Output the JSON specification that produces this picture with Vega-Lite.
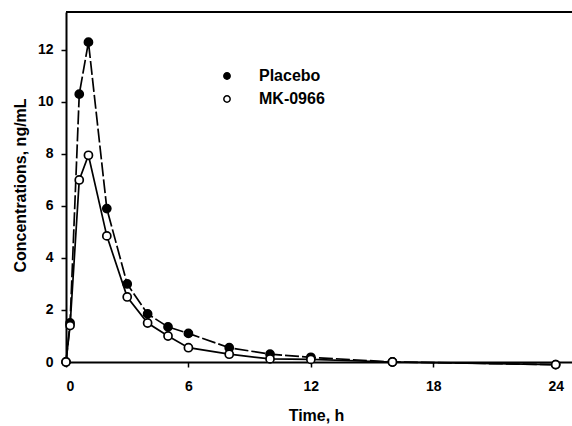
{
  "$schema": "https://vega.github.io/schema/vega-lite/v6.json",
  "width": 506,
  "height": 350,
  "autosize": {"type": "none"},
  "padding": {"left": 66, "top": 12, "right": 0, "bottom": 64},
  "background": "white",
  "view": {"stroke": null},
  "config": {
    "font": "Liberation Sans",
    "axis": {"labelFont": "Liberation Sans", "titleFont": "Liberation Sans", "labelFontWeight": "bold", "titleFontWeight": "bold", "labelColor": "black", "titleColor": "black", "domainColor": "black", "tickColor": "black", "labelFontSize": 14, "titleFontSize": 16, "domainWidth": 2, "tickWidth": 1.5, "grid": false},
    "legend": {"labelFont": "Liberation Sans", "labelFontWeight": "bold", "labelFontSize": 16, "labelColor": "black"}
  },
  "data": {
    "values": [
      {"t": 0, "c": 0, "group": "Placebo"},
      {"t": 0.2, "c": 1.5, "group": "Placebo"},
      {"t": 0.65, "c": 10.3, "group": "Placebo"},
      {"t": 1.1, "c": 12.3, "group": "Placebo"},
      {"t": 2, "c": 5.9, "group": "Placebo"},
      {"t": 3, "c": 3.0, "group": "Placebo"},
      {"t": 4, "c": 1.85, "group": "Placebo"},
      {"t": 5, "c": 1.35, "group": "Placebo"},
      {"t": 6, "c": 1.1, "group": "Placebo"},
      {"t": 8, "c": 0.55, "group": "Placebo"},
      {"t": 10, "c": 0.3, "group": "Placebo"},
      {"t": 12, "c": 0.18, "group": "Placebo"},
      {"t": 16, "c": 0.0, "group": "Placebo"},
      {"t": 24, "c": -0.1, "group": "Placebo"},
      {"t": 0, "c": 0, "group": "MK-0966"},
      {"t": 0.2, "c": 1.4, "group": "MK-0966"},
      {"t": 0.65, "c": 7.0, "group": "MK-0966"},
      {"t": 1.1, "c": 7.95, "group": "MK-0966"},
      {"t": 2, "c": 4.85, "group": "MK-0966"},
      {"t": 3, "c": 2.5, "group": "MK-0966"},
      {"t": 4, "c": 1.5, "group": "MK-0966"},
      {"t": 5, "c": 1.0, "group": "MK-0966"},
      {"t": 6, "c": 0.55, "group": "MK-0966"},
      {"t": 8, "c": 0.3, "group": "MK-0966"},
      {"t": 10, "c": 0.12, "group": "MK-0966"},
      {"t": 12, "c": 0.1, "group": "MK-0966"},
      {"t": 16, "c": 0.0, "group": "MK-0966"},
      {"t": 24, "c": -0.1, "group": "MK-0966"}
    ]
  },
  "layer": [
    {
      "mark": {"type": "rule", "color": "black", "strokeWidth": 2},
      "encoding": {"y": {"datum": 13.46, "type": "quantitative"}}
    },
    {
      "transform": [{"filter": "datum.group === 'Placebo'"}],
      "mark": {"type": "line", "color": "black", "strokeWidth": 1.7, "strokeDash": [14, 3]},
      "encoding": {
        "x": {"field": "t", "type": "quantitative", "scale": {"domain": [0, 24.8], "nice": false},
              "axis": {"values": [0, 6, 12, 18, 24], "title": "Time, h", "tickSize": 5, "labelPadding": 12, "titleX": 250, "titleY": 53, "titleBaseline": "middle"}},
        "y": {"field": "c", "type": "quantitative", "scale": {"domain": [0, 13.46], "nice": false},
              "axis": {"values": [0, 2, 4, 6, 8, 10, 12], "title": "Concentrations, ng/mL", "tickSize": 5, "labelPadding": 8, "titleX": -46, "titleY": 173, "titleAlign": "center", "titleBaseline": "middle"}}
      }
    },
    {
      "transform": [{"filter": "datum.group === 'MK-0966'"}],
      "mark": {"type": "line", "color": "black", "strokeWidth": 1.7},
      "encoding": {
        "x": {"field": "t", "type": "quantitative"},
        "y": {"field": "c", "type": "quantitative"}
      }
    },
    {
      "mark": {"type": "point", "shape": "circle", "filled": true, "stroke": "black", "strokeWidth": 1.7, "size": 65, "opacity": 1},
      "encoding": {
        "x": {"field": "t", "type": "quantitative"},
        "y": {"field": "c", "type": "quantitative"},
        "fill": {"field": "group", "type": "nominal", "scale": {"domain": ["Placebo", "MK-0966"], "range": ["black", "white"]},
                 "legend": {"title": null, "orient": "none", "legendX": 153, "legendY": 56, "symbolSize": 40, "symbolStrokeColor": "black", "symbolStrokeWidth": 1.5, "symbolType": "circle", "labelOffset": 24, "rowPadding": 7}}
      }
    }
  ]
}
